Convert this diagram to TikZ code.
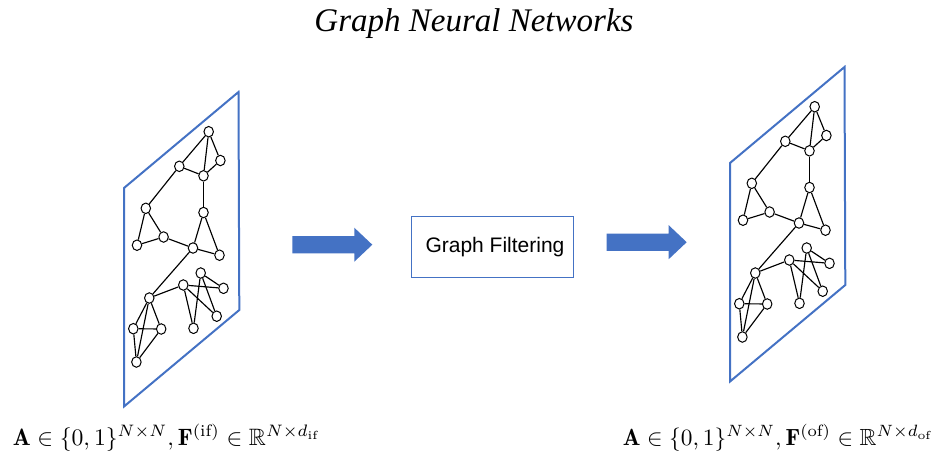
\documentclass[tikz,border=0pt]{standalone}
\usepackage{amsmath,amssymb}
\usepackage{fontspec}
\usetikzlibrary{shapes.geometric}
\newfontfamily\titlefont{Liberation Serif}
\newfontfamily\boxfont{Liberation Sans}
\definecolor{officeblue}{HTML}{4472C4}

% One graph drawn on a tilted plane (local pixel coordinates)
\newcommand\graphplane{%
  \draw[plane] (124,188) -- (238.5,92) -- (239.3,310) -- (124,406.5) -- cycle;
  \foreach \n/\x/\y in {1/208.7/131.7, 2/220.4/160.5, 3/179.3/166.3, 4/203.5/175.8,
      5/203.5/212.5, 6/145.8/208.3, 7/163.6/237, 8/137/245.2, 9/193/248,
      10/219.5/255.2, 11/200.7/273, 12/223.5/288.3, 13/183.3/285, 14/149.3/298,
      15/216.7/316.2, 16/133.3/328.7, 17/161.2/329, 18/193.5/328.3, 19/136.4/362}
    \node[vtx] (n\n) at (\x,\y) {};
  \foreach \a/\b in {1/2, 1/3, 1/4, 2/4, 3/4, 4/5, 3/6, 6/7, 6/8, 7/8, 7/9,
      5/9, 5/10, 9/10, 9/14, 14/13, 13/12, 13/15, 13/18, 11/12, 11/15, 11/18,
      14/16, 14/17, 14/19, 16/17, 16/19, 17/19}
    \draw[edge] (n\a) -- (n\b);
}

\tikzset{
  pics/blockarrow/.style={code={
    \fill[officeblue] (0,-8.7) -- (62,-8.7) -- (62,-17) -- (80,0) -- (62,17)
      -- (62,8.7) -- (0,8.7) -- cycle;
  }}
}

\begin{document}
\begin{tikzpicture}[x=1pt,y=-1pt,
  plane/.style={draw=officeblue, line width=2pt, line join=miter},
  vtx/.style={ellipse, draw=black, fill=white, line width=1pt,
    minimum width=9.5pt, minimum height=10.5pt, inner sep=0pt},
  edge/.style={draw=black, line width=1.15pt},
  formula/.style={anchor=base, inner sep=0pt},
  filterbox/.style={draw=officeblue, line width=1pt, minimum width=161.6pt,
    minimum height=60.6pt, inner sep=0pt, font=\boxfont\fontsize{21}{25}\selectfont}]
\useasboundingbox (0,0) rectangle (946,459);

\node[anchor=base, inner sep=0pt] (title) at (474,31.7)
  {\fontsize{33}{39}\selectfont\titlefont\itshape Graph Neural Networks};

\begin{scope}[name prefix=L-]
  \graphplane
\end{scope}
\begin{scope}[shift={(606,-25)}, name prefix=R-]
  \graphplane
\end{scope}

\pic at (292.3,244.7) {blockarrow};
\pic at (606.7,242.2) {blockarrow};

\node[filterbox] (filter) at (492.5,247) {\hspace{5pt}Graph Filtering};

\node[formula] (fL) at (166.4,445)
  {\resizebox{307pt}{!}{$\mathbf{A}\in\{0,1\}^{N\times N},\mathbf{F}^{(\mathrm{if})}\in\mathbb{R}^{N\times d_{\mathrm{if}}}$}};
\node[formula] (fR) at (777.9,445)
  {\resizebox{310pt}{!}{$\mathbf{A}\in\{0,1\}^{N\times N},\mathbf{F}^{(\mathrm{of})}\in\mathbb{R}^{N\times d_{\mathrm{of}}}$}};
\end{tikzpicture}
\end{document}
